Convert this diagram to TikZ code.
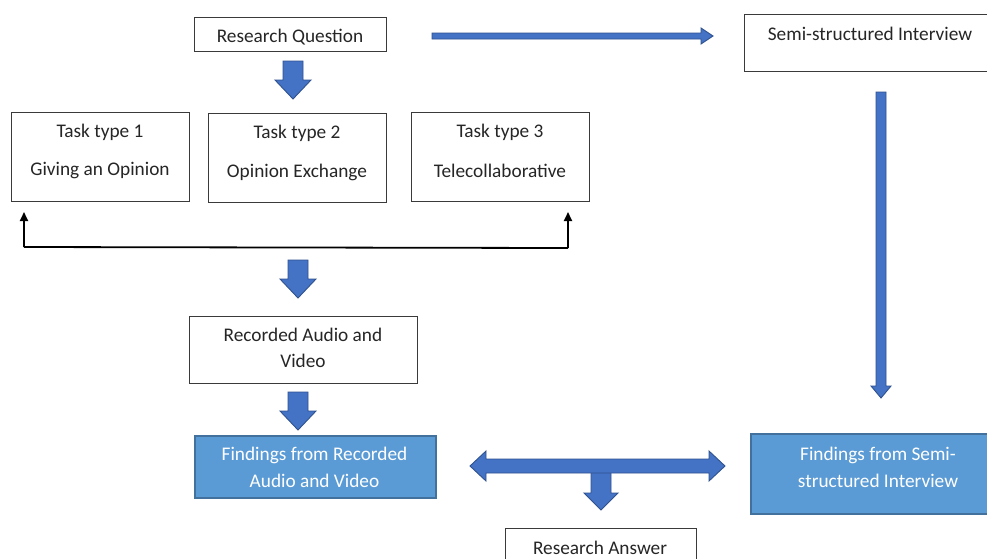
\documentclass[tikz,border=0pt]{standalone}
\usepackage{fontspec}
\setmainfont{Carlito}
\usetikzlibrary{arrows.meta}
\definecolor{arrowfill}{HTML}{4472C4}
\definecolor{arrowline}{HTML}{2F528F}
\definecolor{findfill}{HTML}{5B9BD5}
\definecolor{findline}{HTML}{41719C}
\definecolor{boxline}{HTML}{3A3A3A}
\tikzset{
  wbox/.style={draw=boxline, line width=0.9pt, fill=white, rectangle, inner sep=0pt, anchor=north west},
  bbox/.style={draw=findline, line width=1.6pt, fill=findfill, rectangle, inner sep=0pt, anchor=north west},
  txt/.style={inner sep=0pt, font=\fontsize{19.3}{22}\selectfont, text=black!85},
  wtxt/.style={inner sep=0pt, font=\fontsize{19.3}{22}\selectfont, text=white},
  barrow/.style={fill=arrowfill, draw=arrowline, line width=0.9pt, line join=miter},
  link/.style={line width=1.8pt, draw=black},
}
% down block arrow: cx, ytop, ytip, shaft half, head half, head length
\newcommand{\dnblock}[6]{\filldraw[barrow] ({#1-#4},#2) -- ({#1+#4},#2) -- ({#1+#4},{#3-#6}) -- ({#1+#5},{#3-#6}) -- (#1,#3) -- ({#1-#5},{#3-#6}) -- ({#1-#4},{#3-#6}) -- cycle;}
\begin{document}
\begin{tikzpicture}[x=1pt,y=-1pt]
\clip (0,0) rectangle (987,558);
\fill[white] (0,0) rectangle (987,558);

% boxes
\node[wbox, minimum width=192, minimum height=34] (rq) at (194,17) {};
\node[txt] (rqt) at (290,37) {Research Question};

\node[wbox, minimum width=260, minimum height=57] (ssi) at (744,14) {};
\node[txt] (ssit) at (870,34) {Semi-structured Interview};

\node[wbox, minimum width=178, minimum height=89] (t1) at (11,112) {};
\node[txt] (t1a) at (100,132) {Task type 1};
\node[txt] (t1b) at (100,171) {Giving an Opinion};

\node[wbox, minimum width=178, minimum height=89] (t2) at (208,113) {};
\node[txt] (t2a) at (297,133) {Task type 2};
\node[txt] (t2b) at (297,172) {Opinion Exchange};

\node[wbox, minimum width=178, minimum height=89] (t3) at (411,112) {};
\node[txt] (t3a) at (500,132) {Task type 3};
\node[txt] (t3b) at (500,171) {Telecollaborative};

\node[wbox, minimum width=228, minimum height=67] (rav) at (189,316) {};
\node[txt] (rava) at (303,335) {Recorded Audio and};
\node[txt] (ravb) at (303,361) {Video};

\node[bbox, minimum width=241, minimum height=62] (fr) at (194,435) {};
\node[wtxt] (fra) at (314.5,455) {Findings from Recorded};
\node[wtxt] (frb) at (314.5,481) {Audio and Video};

\node[bbox, minimum width=256, minimum height=80] (fs) at (750,433) {};
\node[wtxt] (fsa) at (878,455) {Findings from Semi-};
\node[wtxt] (fsb) at (878,481) {structured Interview};

\node[wbox, minimum width=191, minimum height=40] (ra) at (505,528) {};
\node[txt] (rat) at (600,548) {Research Answer};

% bracket with black arrows
\coordinate (bl) at (24,247);
\coordinate (br) at (568,248);
\coordinate (blt) at (24,212);
\coordinate (brt) at (568,212);
\draw[link] (bl) -- (br);
\draw[link, -{Triangle[width=8pt,length=9pt]}] (bl) -- (blt);
\draw[link, -{Triangle[width=8pt,length=9pt]}] (br) -- (brt);

% block arrows
\dnblock{293}{61}{99}{10}{18}{19}
\dnblock{298}{260}{298}{10}{18}{19}
\dnblock{298}{392}{430}{10}{18}{19}
\dnblock{601}{472}{510}{10}{17}{17}
% right long arrow under semi box
\dnblock{881}{92}{398}{5}{10}{12}
% horizontal arrow to semi-structured
\filldraw[barrow] (432,33) -- (701,33) -- (701,28) -- (713,36) -- (701,44) -- (701,39) -- (432,39) -- cycle;
% double arrow
\filldraw[barrow] (470,466) -- (486,451) -- (486,459) -- (709,459) -- (709,451) -- (725,466) -- (709,481) -- (709,473) -- (486,473) -- (486,481) -- cycle;
\end{tikzpicture}
\end{document}
